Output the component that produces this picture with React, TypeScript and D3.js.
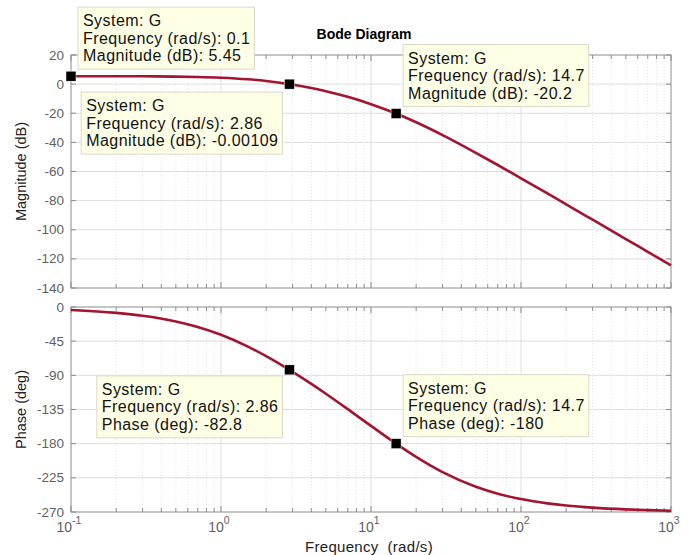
import * as d3 from 'd3';
import React, { useRef, useEffect } from 'react';

// frequency samples (rad/s) and the curve
const freqs = [0.1, 0.2, 0.3, 0.5, 0.7, 1, 1.5, 2, 2.86, 4, 5, 7, 10, 14.7, 20, 30, 50, 70, 100, 150, 200, 300, 500, 700, 1000];
const magDb = [5.45, 5.41, 5.36, 5.18, 4.92, 4.41, 3.35, 2.14, 0.0, -2.67, -4.84, -8.73, -13.75, -20.2, -26.2, -34.98, -47.14, -55.54, -64.64, -75.09, -82.55, -93.09, -106.38, -115.15, -124.44];
const phaseDeg = [-3.86, -7.72, -11.54, -19.04, -26.29, -36.55, -51.78, -64.75, -82.8, -101.31, -114.25, -134.53, -156.6, -180, -197.49, -217.57, -236.82, -245.89, -252.97, -258.6, -261.43, -264.28, -266.56, -267.55, -268.28];

const magTicks = [20, 0, -20, -40, -60, -80, -100, -120, -140];
const phaseTicks = [0, -45, -90, -135, -180, -225, -270];
const decades = [0.1, 1, 10, 100, 1000];
const decadeExp = ['-1', '0', '1', '2', '3'];

// data tips: which plot, frequency, value
const tipPlot = ['mag', 'mag', 'mag', 'phase', 'phase'];
const tipFreq = [0.1, 2.86, 14.7, 2.86, 14.7];
const tipValue = [5.45, 0, -20.2, -82.8, -180];
const tipLines = [
  ['System: G', 'Frequency (rad/s): 0.1', 'Magnitude (dB): 5.45'],
  ['System: G', 'Frequency (rad/s): 2.86', 'Magnitude (dB): -0.00109'],
  ['System: G', 'Frequency (rad/s): 14.7', 'Magnitude (dB): -20.2'],
  ['System: G', 'Frequency (rad/s): 2.86', 'Phase (deg): -82.8'],
  ['System: G', 'Frequency (rad/s): 14.7', 'Phase (deg): -180'],
];
// box placement relative to the marker
const tipOffset = [
  { dx: 7, dy: -69, right: false },
  { dx: -7, dy: 8, right: true },
  { dx: 7, dy: -69, right: false },
  { dx: -7, dy: 6, right: true },
  { dx: 7, dy: -69, right: false },
];

const W = 693, H = 555;
const left = 71, right = 671;
const FONT = '"Liberation Sans", Arial, Helvetica, sans-serif';
const CURVE = '#a2142f';

const App = () => {
  const ref = useRef(null);

  useEffect(() => {
    document.body.style.margin = '0';
    draw();
  });

  const draw = () => {
    const svg = d3.select(ref.current);
    svg.selectAll('*').remove();

    const x = d3.scaleLog().domain([0.1, 1000]).range([left, right]);
    const yMag = d3.scaleLinear().domain([-140, 20]).range([288, 55]);
    const yPh = d3.scaleLinear().domain([-270, 0]).range([512, 307]);

    const minor: number[] = [];
    decades.slice(0, -1).forEach((d) => {
      for (let k = 2; k <= 9; k++) minor.push(d * k);
    });

    const drawPanel = (y, ticks: number[], values: number[], label: string) => {
      const [y0, y1] = y.range(); // bottom, top
      const g = svg.append('g');

      // minor grid (dotted)
      g.selectAll('.mg').data(minor).enter().append('line')
        .attr('x1', (d) => x(d)).attr('x2', (d) => x(d))
        .attr('y1', y1).attr('y2', y0)
        .attr('stroke', '#d8d8d8').attr('stroke-width', 0.7)
        .attr('stroke-dasharray', '1,2');
      // major grid
      g.selectAll('.vg').data(decades.slice(1, -1)).enter().append('line')
        .attr('x1', (d) => x(d)).attr('x2', (d) => x(d))
        .attr('y1', y1).attr('y2', y0)
        .attr('stroke', '#dedede').attr('stroke-width', 1);
      g.selectAll('.hg').data(ticks.slice(1, -1)).enter().append('line')
        .attr('x1', left).attr('x2', right)
        .attr('y1', (d) => y(d)).attr('y2', (d) => y(d))
        .attr('stroke', '#dedede').attr('stroke-width', 1);

      // frame
      g.append('rect')
        .attr('x', left).attr('y', y1)
        .attr('width', right - left).attr('height', y0 - y1)
        .attr('fill', 'none').attr('stroke', '#8c8c8c').attr('stroke-width', 1);

      // ticks inside: x (major + minor) top and bottom
      const xt = decades.concat(minor);
      xt.forEach((d) => {
        const len = decades.includes(d) ? 6 : 4;
        g.append('line').attr('x1', x(d)).attr('x2', x(d))
          .attr('y1', y0).attr('y2', y0 - len).attr('stroke', '#8c8c8c');
        g.append('line').attr('x1', x(d)).attr('x2', x(d))
          .attr('y1', y1).attr('y2', y1 + len).attr('stroke', '#8c8c8c');
      });
      ticks.forEach((d) => {
        g.append('line').attr('x1', left).attr('x2', left + 5)
          .attr('y1', y(d)).attr('y2', y(d)).attr('stroke', '#8c8c8c');
        g.append('line').attr('x1', right).attr('x2', right - 5)
          .attr('y1', y(d)).attr('y2', y(d)).attr('stroke', '#8c8c8c');
      });

      // y tick labels
      g.selectAll('.yl').data(ticks).enter().append('text')
        .attr('x', left - 7).attr('y', (d) => y(d) + 4.5)
        .attr('text-anchor', 'end')
        .style('font-family', FONT).style('font-size', '13.5px').style('fill', '#5f5f5f')
        .text((d) => d);

      // y label
      g.append('text')
        .attr('transform', `translate(26,${(y0 + y1) / 2}) rotate(-90)`)
        .attr('text-anchor', 'middle')
        .style('font-family', FONT).style('font-size', '14.5px').style('fill', '#222')
        .text(label);

      // curve
      const pts = freqs.map((f, i) => [f, values[i]]);
      g.append('path')
        .datum(pts)
        .attr('fill', 'none')
        .attr('stroke', CURVE)
        .attr('stroke-width', 2.6)
        .attr('d', d3.line().curve(d3.curveMonotoneX)
          .x((d) => x(d[0]))
          .y((d) => y(d[1])));
    };

    drawPanel(yMag, magTicks, magDb, 'Magnitude (dB)');
    drawPanel(yPh, phaseTicks, phaseDeg, 'Phase (deg)');

    // x tick labels (10^n)
    decades.forEach((d, i) => {
      const t = svg.append('text')
        .attr('x', x(d) - 2).attr('y', 532)
        .attr('text-anchor', 'middle')
        .style('font-family', FONT).style('font-size', '14px').style('fill', '#5f5f5f');
      t.append('tspan').text('10');
      t.append('tspan').attr('dy', -8).style('font-size', '10.5px').text(decadeExp[i]);
    });

    svg.append('text')
      .attr('x', 369).attr('y', 552)
      .attr('text-anchor', 'middle')
      .style('font-family', FONT).style('font-size', '15px').style('fill', '#222')
      .style('letter-spacing', '0.3px')
      .style('white-space', 'pre')
      .text('Frequency  (rad/s)');

    svg.append('text')
      .attr('x', 364).attr('y', 39)
      .attr('text-anchor', 'middle')
      .style('font-family', FONT).style('font-size', '14px').style('font-weight', 'bold')
      .text('Bode Diagram');

    // data tips
    tipFreq.forEach((f, i) => {
      const y = tipPlot[i] === 'mag' ? yMag : yPh;
      const mx = x(f), my = y(tipValue[i]);
      const g = svg.append('g');
      const box = g.append('rect');
      const txt = g.append('g');
      let wMax = 0;
      tipLines[i].forEach((s, k) => {
        const t = txt.append('text')
          .attr('x', 0).attr('y', 19 + k * 17.5)
          .style('font-family', FONT).style('font-size', '16px').style('fill', '#111')
          .style('letter-spacing', '0.45px')
          .text(s);
        const n = t.node() as SVGTextElement;
        wMax = Math.max(wMax, n.getComputedTextLength());
      });
      const bw = wMax + 9, bh = 62;
      const o = tipOffset[i];
      const bx = o.right ? mx + o.dx - bw : mx + o.dx;
      const by = my + o.dy;
      box.attr('x', bx).attr('y', by).attr('width', bw).attr('height', bh)
        .attr('fill', '#ffffe6').attr('stroke', '#d9d9c8').attr('stroke-width', 1);
      txt.attr('transform', `translate(${bx + 5},${by})`);

      svg.append('rect')
        .attr('x', mx - 5).attr('y', my - 5).attr('width', 10).attr('height', 10)
        .attr('fill', '#000').attr('stroke', '#fff').attr('stroke-width', 0.5);
    });
  };

  return (
    <svg ref={ref} width={W} height={H} style={{ display: 'block', background: '#fff' }}></svg>
  );
};

export default App;
